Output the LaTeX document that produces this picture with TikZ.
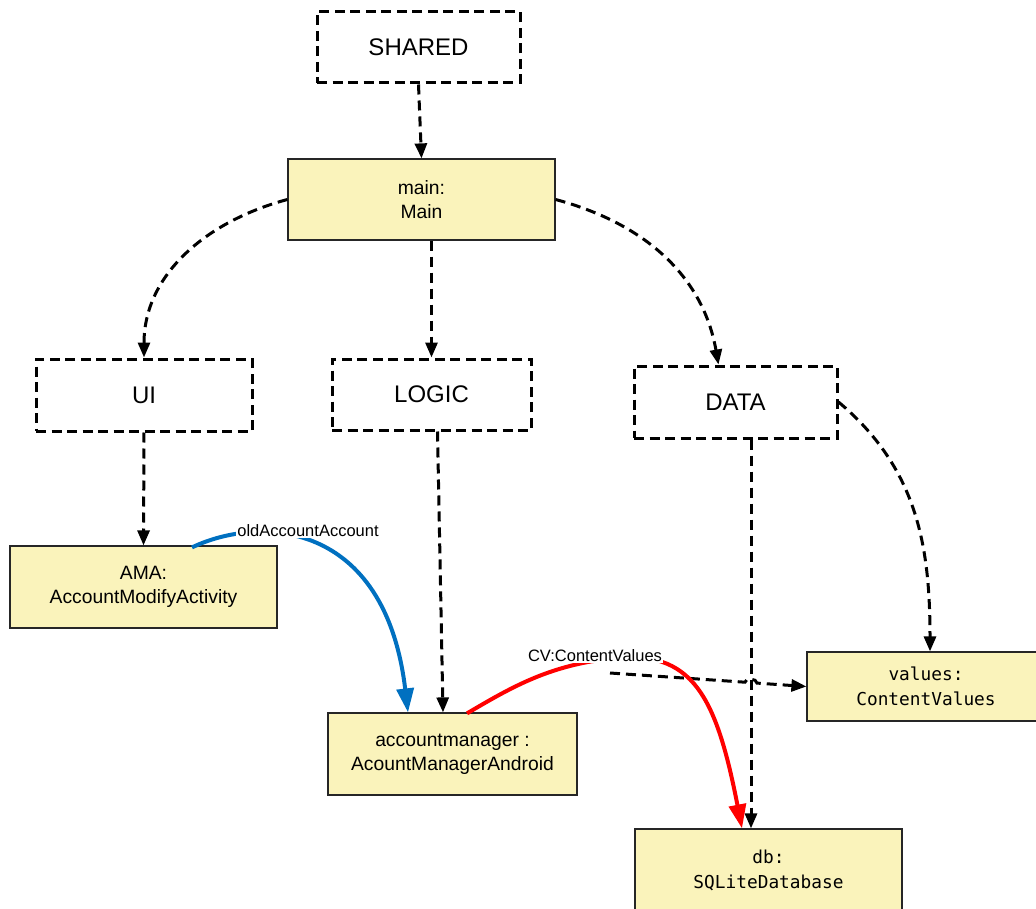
\documentclass[tikz,border=0pt]{standalone}
\usepackage{fontspec}
\setmainfont{Liberation Sans}
\setmonofont{DejaVu Sans Mono}
\usetikzlibrary{arrows.meta,calc}
\definecolor{boxfill}{RGB}{250,243,187}
\definecolor{msgblue}{RGB}{0,112,192}
\definecolor{msgred}{RGB}{255,0,0}
\begin{document}
\begin{tikzpicture}[x=1pt,y=-1pt,
  pkgbox/.style={draw, line width=3pt, dash pattern=on 10pt off 5.5pt, inner sep=0pt, font=\fontsize{24}{28}\selectfont},
  objbox/.style={draw=black!85, line width=1.2pt, fill=boxfill, inner sep=0pt, align=center, font=\fontsize{19.3}{24}\selectfont},
  monobox/.style={objbox, font=\ttfamily\fontsize{17.8}{25}\selectfont},
  dep/.style={line width=3pt, dash pattern=on 10pt off 6pt, -{Triangle[length=15pt,width=12pt]}},
  msg/.style={line width=4pt, -{Triangle[length=24pt,width=17pt]}},
  lbl/.style={fill=white, inner sep=1pt, font=\fontsize{16.5}{18}\selectfont}]
\useasboundingbox (0,0) rectangle (1036,909);
% package boxes
\node[pkgbox, minimum width=203pt, minimum height=71pt] (shared) at (418.5,47.5) {SHARED};
\node[pkgbox, minimum width=216pt, minimum height=72pt] (ui) at (144,395) {UI};
\node[pkgbox, minimum width=199pt, minimum height=71pt] (logic) at (431.5,394.5) {LOGIC};
\node[pkgbox, minimum width=203pt, minimum height=72pt] (data) at (735.5,402) {DATA};
% object boxes
\node[objbox, minimum width=267pt, minimum height=81pt] (main) at (421.5,199.5) {main:\\Main};
\node[objbox, minimum width=267pt, minimum height=82pt] (ama) at (143.5,587) {AMA:\\AccountModifyActivity};
\node[objbox, minimum width=249pt, minimum height=82pt] (am) at (452.5,754) {accountmanager :\\AcountManagerAndroid};
\node[monobox, minimum width=238pt, minimum height=69pt] (values) at (926,686.5) {values:\\ContentValues};
\node[monobox, minimum width=267pt, minimum height=82pt] (db) at (768.5,870) {db:\\SQLiteDatabase};
% dependencies
\draw[dep] (shared.south) -- (main.north);
\draw[dep] (main.west) to[out=195,in=90] (ui.north);
\draw[dep] (logic.north |- main.south) -- (logic.north);
\draw[dep] (main.east) to[out=-15,in=100] ([xshift=-17pt]data.north);
\draw[dep] (ui.south) -- (ama.north);
\draw[dep] ([xshift=6pt]logic.south) -- ([xshift=-9.5pt]am.north);
\draw[dep] ([xshift=15.5pt]data.south) -- ([xshift=-17.5pt]db.north);
\draw[dep] (data.east) to[out=-40,in=90] ([xshift=4pt]values.north);
\coordinate (cvs) at (610,673);
\draw[dep] (cvs) -- (745,682.2) to[out=90,in=90] (757,683.1) -- (values.west);
% messages
\draw[msg, msgblue] ([xshift=48.5pt,yshift=-2pt]ama.north) .. controls (260,515) and (385,520) .. ([xshift=-44.5pt]am.north);
\node[lbl] (oldlbl) at (308,531) {oldAccountAccount};
\draw[msg, msgred] ([xshift=14.5pt,yshift=-1pt]am.north) .. controls (510,688) and (545,668) .. (600,660)
  .. controls (690,645) and (715,690) .. ([xshift=-26.5pt]db.north);
\node[lbl] (cvlbl) at (595,656) {CV:ContentValues};
\end{tikzpicture}
\end{document}
